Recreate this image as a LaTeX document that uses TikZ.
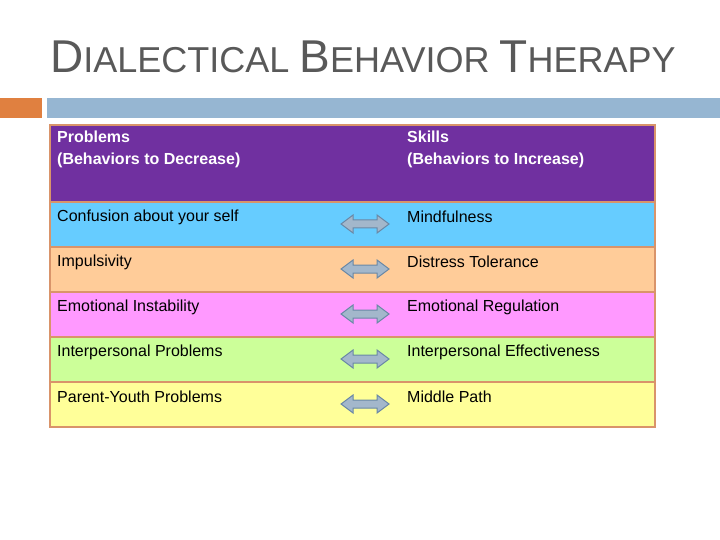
\documentclass[tikz,border=0pt]{standalone}
\usepackage{fontspec}
\setmainfont{Liberation Sans}
\begin{document}
\begin{tikzpicture}[x=1pt,y=-1pt,
  cell/.style={draw=cellborder,line width=1.2pt},
  txt/.style={anchor=west,font=\fontsize{16}{20}\selectfont,inner sep=0pt},
  dbl/.style={fill=arrowfill,draw=arrowline,line width=1pt}]
\definecolor{cellborder}{HTML}{D9946A}
\definecolor{arrowfill}{HTML}{A3B7CB}
\definecolor{arrowline}{HTML}{6A88A6}
\definecolor{titlegray}{HTML}{595959}
\definecolor{barorange}{RGB}{224,128,64}
\definecolor{barblue}{RGB}{150,182,210}
\definecolor{ca}{RGB}{112,48,160}
\definecolor{cb}{RGB}{102,204,255}
\definecolor{cc}{RGB}{255,204,153}
\definecolor{cd}{RGB}{255,153,255}
\definecolor{ce}{RGB}{204,255,153}
\definecolor{cf}{RGB}{255,255,153}
\useasboundingbox (0,0) rectangle (720,540);
\fill[white] (0,0) rectangle (720,540);
\fill[barorange] (0,98) rectangle (42,118);
\fill[barblue] (47,98) rectangle (720,118);
\node[anchor=base west,inner sep=0pt,text=titlegray] (title) at (50,73)
 {\fontsize{46}{50}\selectfont D\fontsize{36}{40}\selectfont IALECTICAL \fontsize{46}{50}\selectfont B\fontsize{36}{40}\selectfont EHAVIOR \fontsize{46}{50}\selectfont T\fontsize{36}{40}\selectfont HERAPY};
\fill[ca] (50,125) rectangle (655,202);
\fill[cb] (50,202) rectangle (655,247);
\fill[cc] (50,247) rectangle (655,292);
\fill[cd] (50,292) rectangle (655,337);
\fill[ce] (50,337) rectangle (655,382);
\fill[cf] (50,382) rectangle (655,427);
\foreach \a/\b in {125/202,202/247,247/292,292/337,337/382,382/427}
  \draw[cell] (50,\a) rectangle (655,\b);
\node[txt,text=white,font=\bfseries\fontsize{16}{22}\selectfont,anchor=north west,align=left] (h1) at (57,131) {Problems\\(Behaviors to Decrease)};
\node[txt,text=white,font=\bfseries\fontsize{16}{22}\selectfont,anchor=north west,align=left] (h2) at (407,131) {Skills\\(Behaviors to Increase)};
\foreach \y/\l/\r [count=\i] in {217/Confusion about your self/Mindfulness,262/Impulsivity/Distress Tolerance,307/Emotional Instability/Emotional Regulation,352/Interpersonal Problems/Interpersonal Effectiveness,397/Parent-Youth Problems/Middle Path}{
  \node[txt] (l\i) at (57,\y) {\l};
  \node[txt] (r\i) at (407,\y) {\r};
  \draw[dbl] (341,\y+7) -- (353,\y-2) -- (353,\y+3) -- (377,\y+3) -- (377,\y-2) -- (389,\y+7) -- (377,\y+16) -- (377,\y+11) -- (353,\y+11) -- (353,\y+16) -- cycle;
}
\end{tikzpicture}
\end{document}
